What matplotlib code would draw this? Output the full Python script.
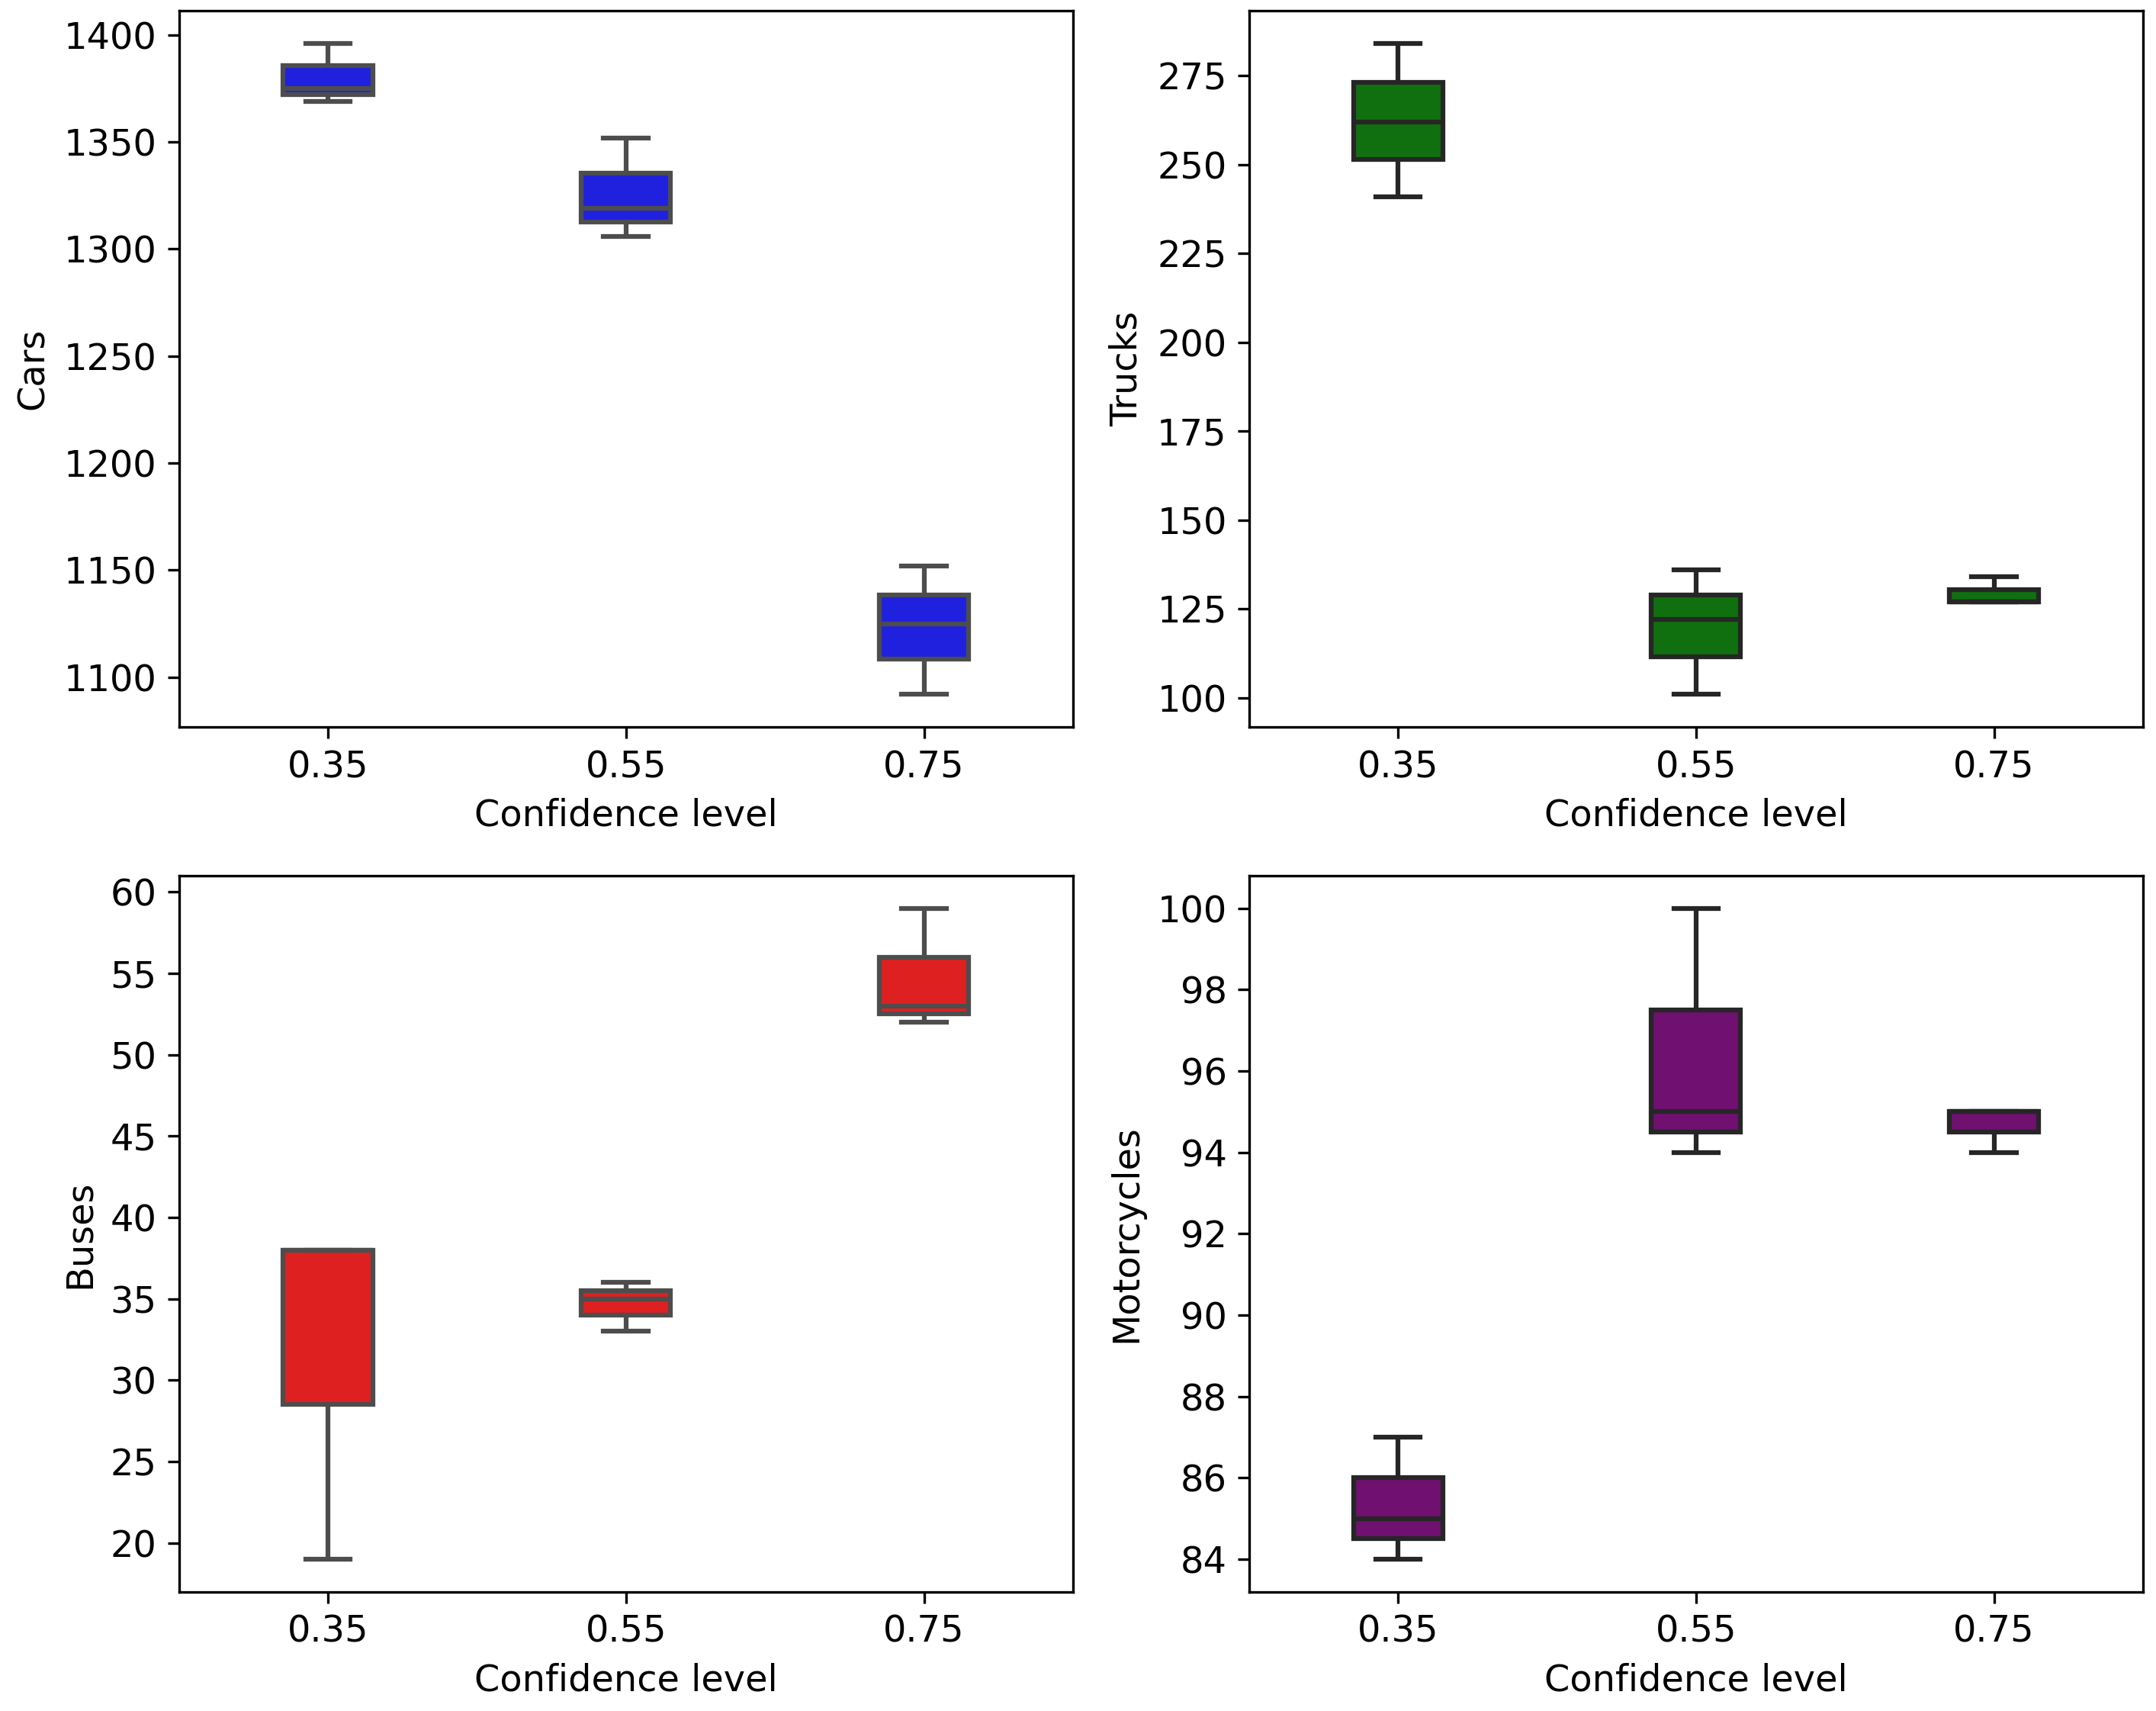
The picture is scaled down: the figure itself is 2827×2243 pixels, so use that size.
import numpy as np
import pandas as pd
import matplotlib
matplotlib.use("Agg")
import matplotlib.pyplot as plt
import seaborn as sns

levels = [0.35, 0.55, 0.75]

# three runs per confidence level
cars = [[1369, 1375, 1396], [1306, 1319, 1352], [1092, 1125, 1152]]
trucks = [[241, 262, 284], [101, 122, 136], [127, 127, 134]]
buses = [[19, 38, 38], [33, 35, 36], [52, 53, 59]]
motorcycles = [[84, 85, 87], [94, 95, 100], [94, 95, 95]]

def to_frame(values, name):
    rows = []
    for lvl, vals in zip(levels, values):
        for v in vals:
            rows.append({"Confidence level": lvl, name: v})
    return pd.DataFrame(rows)

panels = [(cars, "Cars", "blue"),
          (trucks, "Trucks", "green"),
          (buses, "Buses", "red"),
          (motorcycles, "Motorcycles", "purple")]

fs = 11.5
fig, axes = plt.subplots(2, 2, figsize=(2828 / 300, 2243 / 300))
for ax, (values, name, color) in zip(axes.flat, panels):
    df = to_frame(values, name)
    sns.boxplot(data=df, x="Confidence level", y=name, color=color,
                width=0.3, linewidth=1.5, ax=ax)
    ax.tick_params(labelsize=fs)
    ax.set_xlabel("Confidence level", fontsize=fs)
    ax.set_ylabel(name, fontsize=fs)

plt.subplots_adjust(left=0.083, right=0.9936, top=0.9936, bottom=0.0697,
                    wspace=0.197, hspace=0.208)
plt.savefig("out.png", dpi=300)
